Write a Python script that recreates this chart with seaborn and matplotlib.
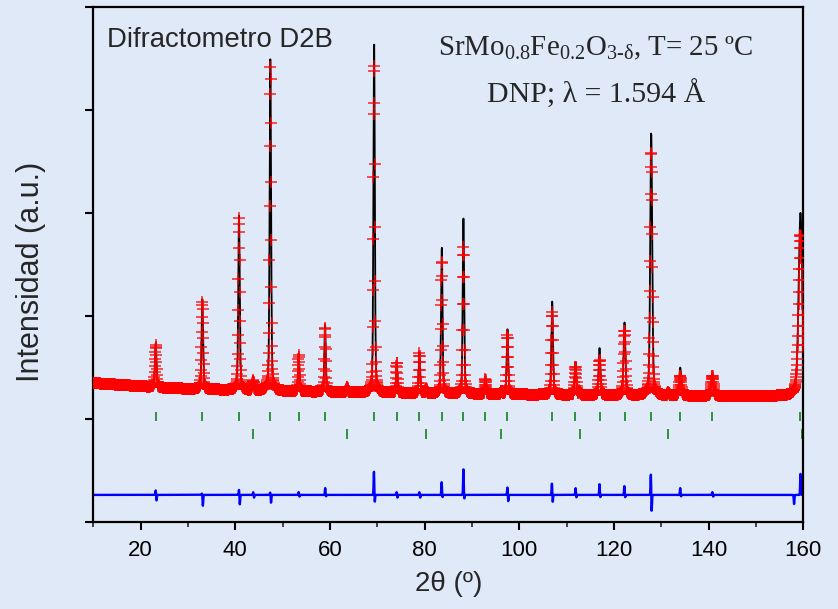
import numpy as np
import pandas as pd
import matplotlib
matplotlib.use("Agg")
import matplotlib.pyplot as plt
import seaborn as sns
from matplotlib.ticker import MultipleLocator, NullFormatter

# ---------------- data ----------------
# measurement grid (D2B, step 0.05 deg)
two_theta = np.round(np.arange(10.0, 160.0001, 0.05), 3)

# background (counts, arbitrary units)
bg_x = [10, 26, 40, 60, 100, 140, 160]
bg_y = [1350, 1300, 1280, 1262, 1238, 1224, 1224]

# main phase reflections: position, calculated height, observed height, FWHM
main_pos = [23.19, 33.04, 40.79, 47.41, 53.41, 58.97, 69.33, 74.12, 78.90, 83.63,
            88.20, 92.85, 97.50, 106.95, 111.87, 116.95, 122.23, 127.87, 134.00,
            140.80, 159.40]
calc_height = [428, 876, 1700, 3230, 360, 662, 3420, 302, 399, 1430,
               1702, 146, 632, 905, 321, 457, 710, 2560, 272, 185, 1780]
obs_height = [409, 846, 1680, 3152, 350, 623, 3210, 292, 389, 1294,
              1430, 146, 574, 807, 272, 340, 632, 2374, 195, 195, 1566]
fwhm = [0.38, 0.37, 0.36, 0.36, 0.35, 0.35, 0.34, 0.34, 0.34, 0.35,
        0.36, 0.37, 0.38, 0.40, 0.42, 0.44, 0.46, 0.48, 0.54, 0.60, 0.90]

# Bragg marker positions (two phases)
bragg_main = [23.19, 33.04, 40.79, 47.41, 53.41, 58.97, 69.33, 74.12, 78.90, 83.63,
              88.20, 92.85, 97.50, 106.95, 111.87, 116.95, 122.23, 127.87, 134.00,
              140.80, 159.20]
bragg_second = [43.75, 63.62, 80.32, 96.23, 112.72, 131.47, 159.70]
second_height = [97, 49, 39, 29, 29, 29, 0]

# difference curve features: position, upward spike, downward spike
diff_pos = [23.2, 33.0, 40.8, 43.8, 47.4, 53.4, 59.0, 69.3, 74.1, 78.9, 83.6, 88.2,
            97.5, 106.9, 111.9, 116.95, 122.2, 127.8, 134.0, 140.8, 157.9, 159.4]
diff_up = [49, 19, 58, 29, 29, 29, 68, 233, 29, 29, 126, 253,
           78, 117, 68, 107, 88, 214, 68, 29, 0, 204]
diff_down = [58, 107, 97, 29, 78, 19, 19, 88, 29, 29, 29, 49,
             68, 78, 29, 29, 29, 175, 19, 19, 88, 0]
diff_offset = 263

# ---------------- build profiles ----------------
def pseudo_voigt(x, x0, w, eta=0.4):
    d = (x - x0) / w
    g = np.exp(-4 * np.log(2) * d ** 2)
    l = 1.0 / (1.0 + 4 * d ** 2)
    return eta * l + (1 - eta) * g

bg = np.interp(two_theta, bg_x, bg_y)
calc = bg.copy()
obs = bg.copy()
for p, hc, ho, w in zip(main_pos, calc_height, obs_height, fwhm):
    calc += hc * pseudo_voigt(two_theta, p, w)
    obs += ho * pseudo_voigt(two_theta, p, w)
for p, h in zip(bragg_second, second_height):
    calc += h * pseudo_voigt(two_theta, p, 0.4)
    obs += h * pseudo_voigt(two_theta, p, 0.4)

diff = np.full_like(two_theta, float(diff_offset))
for p, u, dn in zip(diff_pos, diff_up, diff_down):
    diff += u * np.exp(-0.5 * ((two_theta - p) / 0.07) ** 2)
    diff -= dn * np.exp(-0.5 * ((two_theta - (p + 0.15)) / 0.07) ** 2)

df = pd.DataFrame({"two_theta": two_theta, "obs": obs, "calc": calc, "diff": diff})

# ---------------- figure ----------------
sns.set_style("ticks")
bgc = "#dfe9f8"
plt.rcParams["font.family"] = ["Liberation Sans", "DejaVu Sans"]
plt.rcParams["mathtext.fontset"] = "custom"
plt.rcParams["mathtext.rm"] = "Liberation Serif"
plt.rcParams["mathtext.it"] = "Liberation Serif:italic"

fig = plt.figure(figsize=(8.38, 6.09), dpi=100, facecolor=bgc)
ax = fig.add_axes([0.1113, 0.1429, 0.8473, 0.8448])
ax.set_facecolor(bgc)

sns.lineplot(data=df, x="two_theta", y="calc", ax=ax, color="black", lw=1.3,
             estimator=None, sort=False, zorder=2)
ax.plot(df["two_theta"], df["obs"], ls="none", marker="+", ms=8.5, mew=1.1,
        color="red", alpha=0.85, zorder=3)
sns.lineplot(data=df, x="two_theta", y="diff", ax=ax, color="blue", lw=1.7,
             estimator=None, sort=False, zorder=2)
ax.vlines(bragg_main, 982, 1070, color="#1f8a30", lw=1.3, zorder=2)
ax.vlines(bragg_second, 807, 905, color="#1f8a30", lw=1.3, zorder=2)

ax.set_xlim(10, 160)
ax.set_ylim(0, 5000)
ax.xaxis.set_major_locator(MultipleLocator(20))
ax.xaxis.set_minor_locator(MultipleLocator(10))
ax.yaxis.set_major_locator(MultipleLocator(1000))
ax.yaxis.set_major_formatter(NullFormatter())
ax.tick_params(axis="both", which="major", direction="out", length=6, width=1.5,
               labelsize=16, pad=7, colors="black")
ax.tick_params(axis="x", which="minor", direction="out", length=3.5, width=1.2)
ax.tick_params(top=False, right=False)
for s in ax.spines.values():
    s.set_visible(True)
    s.set_linewidth(1.6)
    s.set_color("black")

ax.set_xlabel("2θ (º)", fontsize=20, labelpad=7)
ax.set_ylabel("Intensidad (a.u.)", fontsize=22, labelpad=32)
ax.yaxis.set_label_coords(-0.066, 0.487)

ax.text(0.019, 0.924, "Difractometro D2B", transform=ax.transAxes, fontsize=19.8,
        ha="left", va="baseline")
ax.text(0.708, 0.906,
        r"$\mathrm{SrMo_{0.8}Fe_{0.2}O_{3‐δ}}$, T= 25 ºC",
        transform=ax.transAxes, fontsize=20.8, ha="center", va="baseline",
        family=["Liberation Serif", "DejaVu Serif"])
ax.text(0.708, 0.814, "DNP; λ = 1.594 Å", transform=ax.transAxes, fontsize=21.5,
        ha="center", va="baseline", family=["Liberation Serif", "DejaVu Serif"])

fig.savefig("out.png", dpi=100, facecolor=bgc)
